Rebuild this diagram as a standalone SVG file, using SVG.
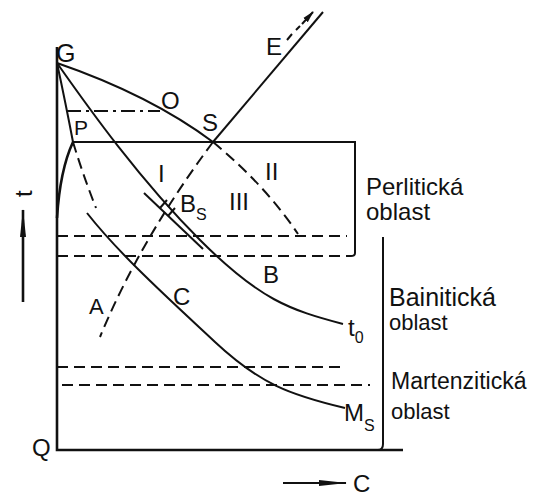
<svg xmlns="http://www.w3.org/2000/svg" width="536" height="497" viewBox="0 0 536 497">
<style>
.ln{fill:none;stroke:#111;stroke-width:2}
.th{fill:none;stroke:#111;stroke-width:2.6}
.ds{fill:none;stroke:#111;stroke-width:2;stroke-dasharray:11 6}
.dd{fill:none;stroke:#111;stroke-width:2;stroke-dasharray:14 5 3 5}
.t{font-family:"Liberation Sans",Arial,sans-serif;fill:#111}
</style>
<defs>
<marker id="ah" viewBox="0 0 12 8" refX="11" refY="4" markerWidth="12" markerHeight="8" markerUnits="userSpaceOnUse" orient="auto">
<path d="M0,1 L12,4 L0,7 Z" fill="#111"/>
</marker>
<marker id="ah2" viewBox="0 0 28 10" refX="27" refY="5" markerWidth="28" markerHeight="10" markerUnits="userSpaceOnUse" orient="auto">
<path d="M0,2 L28,5 L0,8 Z" fill="#111"/>
</marker>
</defs>
<rect width="536" height="497" fill="#fff"/>
<g id="connectors">
<path class="th" d="M57,47 L57,450 L403,450"/>
<path class="ln" d="M383,237 L383,444 Q383,450 378,450"/>
<path class="th" d="M23,302 L23,210" marker-end="url(#ah2)"/>
<path class="ln" d="M283,483 L346,483" marker-end="url(#ah2)"/>
<path class="ln" d="M73,142 L355,142 L355,253 Q355,256 351,256"/>
<path class="ds" d="M57,256 L351,256"/>
<path class="ds" d="M57,236 L347,236"/>
<path class="dd" d="M67,111 L160,111"/>
<path class="ds" d="M57,367 L340,367"/>
<path class="ds" d="M62,385 L370,385"/>
<path class="ln" d="M57,63 Q150,95 213,142"/>
<path class="ds" d="M213,142 Q265,185 298,234"/>
<path class="ln" d="M213,142 L323,12"/>
<path class="ln" d="M287,40 L292,34 M296,30 L300,26"/>
<path class="ln" d="M302,24 L313,12" marker-end="url(#ah)"/>
<path class="ds" d="M213,142 Q140,240 100,337"/>
<path class="ln" d="M57,63 Q66,105 73,142"/>
<path class="ds" d="M73,142 Q83,175 96,208"/>
<path class="th" d="M73,142 Q60,170 57,218"/>
<path class="ln" d="M57,63 C90,110 140,180 200,240 S290,310 343,324"/>
<path class="ln" d="M144,193 L203,249"/>
<path class="ln" d="M160,208 L167,200 M168,216 L175,208"/>
<path class="ln" d="M87,213 C120,255 170,300 215,342 S290,395 345,408"/>
</g>
<g id="labels">
<text class="t" x="56" y="62" font-size="25">G</text>
<text class="t" x="161" y="109" font-size="24">O</text>
<text class="t" x="202" y="131" font-size="24">S</text>
<text class="t" x="266" y="55" font-size="24">E</text>
<text class="t" x="74" y="135" font-size="21">P</text>
<text class="t" x="158" y="182" font-size="24">I</text>
<text class="t" x="265" y="180" font-size="24">II</text>
<text class="t" x="229" y="210" font-size="24">III</text>
<text class="t" x="180" y="212" font-size="24">B<tspan font-size="16" dy="8">S</tspan></text>
<text class="t" x="89" y="314" font-size="22">A</text>
<text class="t" x="173" y="305" font-size="24">C</text>
<text class="t" x="263" y="283" font-size="24">B</text>
<text class="t" x="348" y="336" font-size="24">t<tspan font-size="16" dy="7">0</tspan></text>
<text class="t" x="344" y="421" font-size="24">M<tspan font-size="16" dy="10">S</tspan></text>
<text class="t" x="32" y="456" font-size="24">Q</text>
<text class="t" x="353" y="492" font-size="24">C</text>
<text class="t" font-size="24" transform="translate(32,197) rotate(-90)">t</text>
<text class="t" x="366" y="195" font-size="24">Perlitická</text>
<text class="t" x="366" y="220" font-size="24">oblast</text>
<text class="t" x="389" y="306" font-size="25">Bainitická</text>
<text class="t" x="389" y="330" font-size="22">oblast</text>
<text class="t" x="391" y="389" font-size="23">Martenzitická</text>
<text class="t" x="391" y="419" font-size="22">oblast</text>
</g>
</svg>
